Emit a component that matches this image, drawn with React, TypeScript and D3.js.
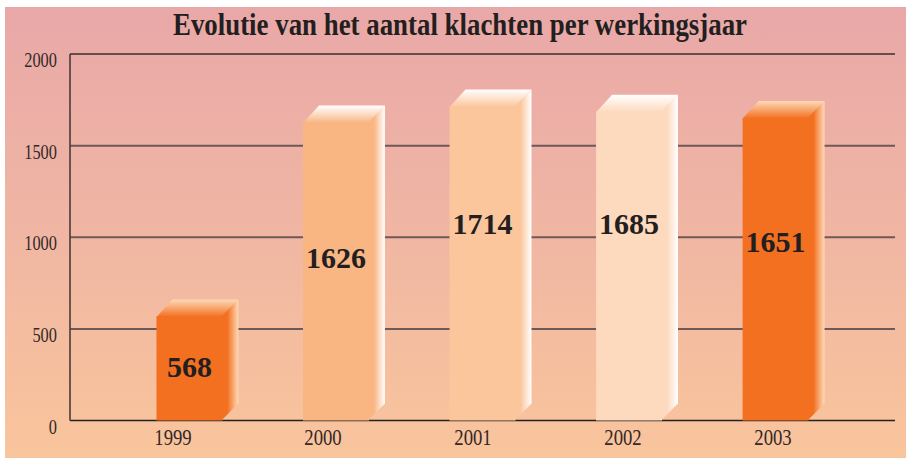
import * as d3 from "d3";

const years = ["1999", "2000", "2001", "2002", "2003"];
const complaints = [568, 1626, 1714, 1685, 1651];
const frontColors = ["#F37021", "#F9B582", "#FCC69D", "#FDD9BD", "#F37021"];
const lightColors = ["#FDDAB8", "#FFFFFF", "#FFFFFF", "#FFFFFF", "#FDDAB8"];
// where the value label sits, in data units (baseline)
const labelLevels = [237, 832, 1018, 1018, 920];
const yTicks = [0, 500, 1000, 1500, 2000];
const title = "Evolutie van het aantal klachten per werkingsjaar";

const width = 909;
const height = 461;
const marginLeft = 70;
const marginRight = 14;
const marginTop = 54;
const chartBottomY = 420.5;
const depthX = 16;
const depthY = 17;

const App = () => {
  const yScale = d3.scaleLinear().domain([0, 2000]).range([chartBottomY, marginTop]);
  const xScale = d3
    .scaleBand()
    .domain(years)
    .range([marginLeft, width - marginRight])
    .paddingInner(0.55)
    .paddingOuter(0.59);
  const labelScale = d3.scalePoint().domain(years).range([173, 773]);
  const bw = xScale.bandwidth();
  const right = width - marginRight;

  return (
    <svg
      width={width}
      height={height}
      viewBox={`0 0 ${width} ${height}`}
      style={{ position: "absolute", left: 0, top: 0, background: "#fff" }}
    >
      <defs>
        <linearGradient id="bg" x1="0" y1="0" x2="0" y2="1">
          <stop offset="0" stopColor="#E9A8A8" />
          <stop offset="0.5" stopColor="#F0B6A3" />
          <stop offset="1" stopColor="#F9C59C" />
        </linearGradient>
        {years.map((y, i) => (
          <g key={y}>
            <linearGradient id={`top-${i}`} x1="0" y1="0" x2="0" y2="1">
              <stop offset="0" stopColor={lightColors[i]} />
              <stop offset="1" stopColor={frontColors[i]} />
            </linearGradient>
            <linearGradient id={`side-${i}`} x1="0" y1="0" x2="1" y2="0">
              <stop offset="0" stopColor={frontColors[i]} />
              <stop offset="0.35" stopColor={frontColors[i]} />
              <stop offset="1" stopColor={lightColors[i]} />
            </linearGradient>
          </g>
        ))}
      </defs>

      <rect x={5} y={7} width={901} height={451} fill="url(#bg)" />

      <text
        x={173}
        y={35}
        textLength={574}
        lengthAdjust="spacingAndGlyphs"
        fontFamily="Liberation Serif"
        fontWeight="bold"
        fontSize={31}
        fill="#231F20"
      >
        {title}
      </text>

      {/* gridlines */}
      {yTicks
        .filter((t) => t > 0)
        .map((t) => (
          <line
            key={t}
            x1={marginLeft}
            x2={right}
            y1={yScale(t)}
            y2={yScale(t)}
            stroke={t === 2000 ? "#3a2e2e" : "#6E5858"}
            strokeWidth={t === 2000 ? 1.5 : 2}
          />
        ))}
      <line x1={marginLeft} x2={right} y1={chartBottomY} y2={chartBottomY} stroke="#222" strokeWidth={1.6} />
      <line x1={marginLeft} x2={marginLeft} y1={marginTop} y2={chartBottomY} stroke="#4a3a3a" strokeWidth={1.6} />

      {/* y tick labels */}
      {yTicks.map((t) => (
        <text
          key={t}
          transform={`translate(57,${yScale(t) + 13}) scale(0.78,1)`}
          textAnchor="end"
          fontFamily="Liberation Serif"
          fontSize={21}
          fill="#332828"
        >
          {t}
        </text>
      ))}

      {/* bars */}
      {years.map((y, i) => {
        const x0 = xScale(y) as number;
        const x1 = x0 + bw;
        const yt = yScale(complaints[i]);
        const yb = yScale(0);
        return (
          <g key={y}>
            <polygon
              points={`${x0},${yt + 0.5} ${x0 + depthX},${yt - depthY} ${x1 + depthX},${yt - depthY} ${x1},${yt + 0.5}`}
              fill={`url(#top-${i})`}
            />
            <polygon
              points={`${x1 - 1},${yt} ${x1 + depthX},${yt - depthY} ${x1 + depthX},${yb - depthY} ${x1 - 1},${yb}`}
              fill={`url(#side-${i})`}
            />
            <rect x={x0} y={yt} width={bw} height={yb - yt} fill={frontColors[i]} />
          </g>
        );
      })}

      {/* value labels */}
      {years.map((y, i) => (
        <text
          key={y}
          x={(xScale(y) as number) + bw / 2}
          y={yScale(labelLevels[i])}
          textAnchor="middle"
          fontFamily="Liberation Serif"
          fontWeight="bold"
          fontSize={30}
          fill="#231F20"
        >
          {complaints[i]}
        </text>
      ))}

      {/* x labels */}
      {years.map((y) => (
        <text
          key={y}
          transform={`translate(${labelScale(y)},445) scale(0.78,1)`}
          textAnchor="middle"
          fontFamily="Liberation Serif"
          fontSize={24}
          fill="#332828"
        >
          {y}
        </text>
      ))}
    </svg>
  );
};

export default App;
